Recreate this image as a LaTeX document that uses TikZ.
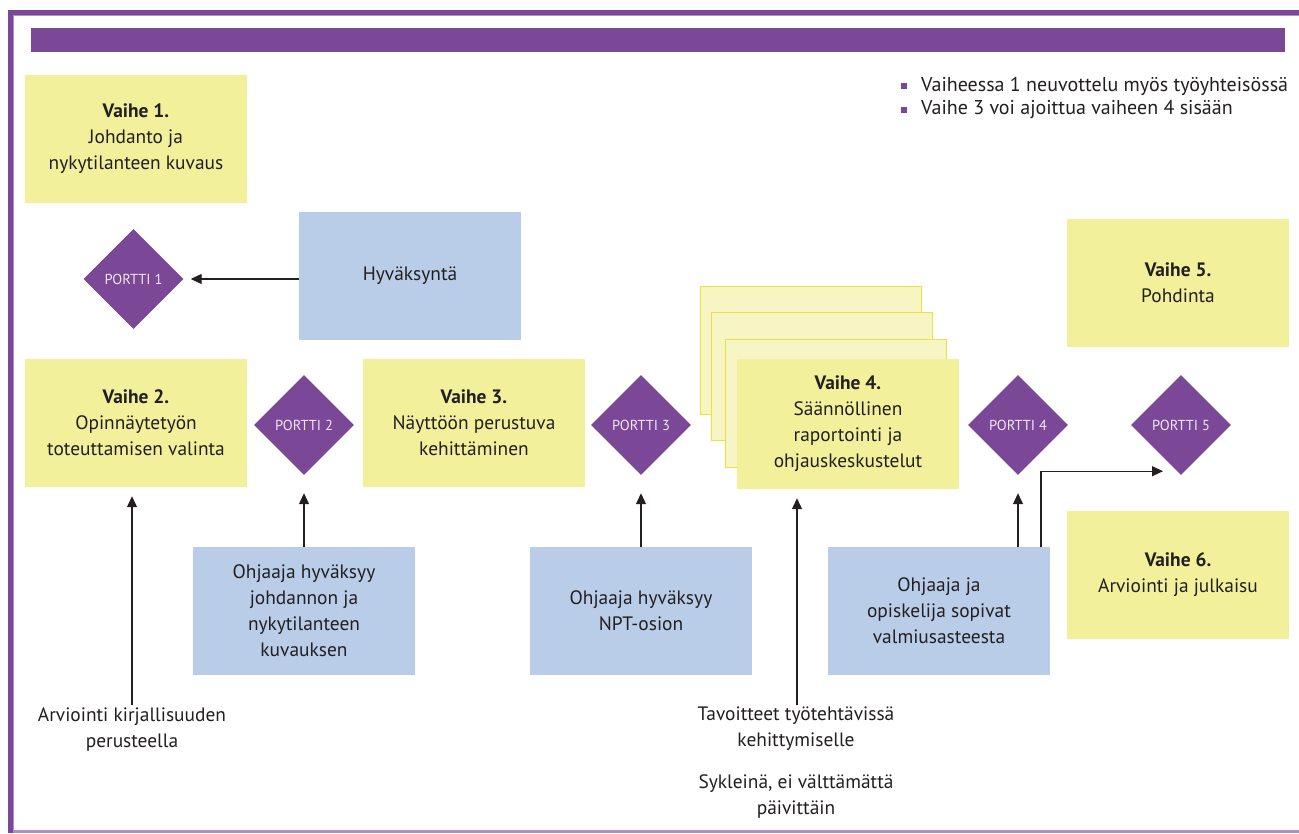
\documentclass[tikz,border=0pt]{standalone}
\usepackage{fontspec}
\setmainfont{PT Sans}
\usetikzlibrary{shapes.geometric,arrows.meta}
\definecolor{vpurple}{RGB}{123,71,151}
\definecolor{vlight}{RGB}{178,142,200}
\definecolor{vyellow}{RGB}{242,240,155}
\definecolor{vpale}{RGB}{247,245,196}
\definecolor{vedge}{RGB}{236,228,60}
\definecolor{vblue}{RGB}{185,205,232}
\definecolor{vtext}{RGB}{35,31,32}
\definecolor{vlav}{RGB}{240,230,245}
\begin{document}
\begin{tikzpicture}[x=1pt,y=-1pt,
  boxbase/.style={minimum width=222pt,minimum height=128pt,inner sep=0pt,align=center,text=vtext,font=\fontsize{19.4}{26}\selectfont},
  ybox/.style={boxbase,fill=vyellow},
  bbox/.style={boxbase,fill=vblue},
  pbox/.style={minimum width=221pt,minimum height=128pt,inner sep=0pt,fill=vpale,draw=vedge,line width=1pt},
  gate/.style={diamond,aspect=1,fill=vpurple,minimum size=100pt,inner sep=0pt,text=vlav,font=\fontsize{14.5}{16}\selectfont},
  arr/.style={-{Triangle[length=11pt,width=10pt]},line width=1.2pt,draw=vtext},
  note/.style={align=center,text=vtext,font=\fontsize{19.4}{26}\selectfont,inner sep=2pt},
  bul/.style={fill=vpurple,minimum size=6pt,inner sep=0pt},
  btext/.style={anchor=west,text=vtext,font=\fontsize{20}{24}\selectfont,inner sep=0pt}
]
\useasboundingbox (0,0) rectangle (1299,833);
\fill[white] (0,0) rectangle (1299,833);
% frame
\fill[vpurple] (8,10) rectangle (1299,15);
\fill[vpurple] (8,10) rectangle (13,833);
\fill[vlight] (13,15) rectangle (1299,16);
\fill[vlight] (13,15) rectangle (14,830);
\fill[vlight] (13,830) rectangle (1299,833);
% top bar
\fill[vpurple] (31,28) rectangle (1285,52);

% bullets
\node[bul] (q1) at (904,86) {};
\node[btext] (t1) at (921,86) {Vaiheessa 1 neuvottelu myös työyhteisössä};
\node[bul] (q2) at (904,110) {};
\node[btext] (t2) at (921,110) {Vaihe 3 voi ajoittua vaiheen 4 sisään};

% yellow phase boxes
\node[ybox] (v1) at (136,138.5) {\textbf{Vaihe 1.}\\Johdanto ja\\nykytilanteen kuvaus};
\node[ybox] (v2) at (136,423) {\textbf{Vaihe 2.}\\Opinnäytetyön\\toteuttamisen valinta};
\node[ybox] (v3) at (474,423) {\textbf{Vaihe 3.}\\Näyttöön perustuva\\kehittäminen};
\node[pbox] (sa) at (810.5,350.5) {};
\node[pbox] (sb) at (821.5,376.5) {};
\node[pbox] (sc) at (835.5,403) {};
\node[ybox,minimum height=130pt] (v4) at (848,424) {\textbf{Vaihe 4.}\\Säännöllinen\\raportointi ja\\ohjauskeskustelut};
\node[ybox] (v5) at (1178,283) {\textbf{Vaihe 5.}\\Pohdinta};
\node[ybox] (v6) at (1178,575) {\textbf{Vaihe 6.}\\Arviointi ja julkaisu};

% blue boxes
\node[bbox] (hyv) at (410,276) {Hyväksyntä};
\node[bbox] (b1) at (304,611) {Ohjaaja hyväksyy\\johdannon ja\\nykytilanteen\\kuvauksen};
\node[bbox] (b2) at (641,611) {Ohjaaja hyväksyy\\NPT-osion};
\node[bbox] (b3) at (939,611) {Ohjaaja ja\\opiskelija sopivat\\valmiusasteesta};

% gates
\node[gate] (p1) at (133.5,279) {PORTTI 1};
\node[gate] (p2) at (304,425) {PORTTI 2};
\node[gate] (p3) at (641,425) {PORTTI 3};
\node[gate] (p4) at (1018,425) {PORTTI 4};
\node[gate] (p5) at (1181,425) {PORTTI 5};

% bottom notes
\node[note,anchor=north] (arv) at (132,705) {Arviointi kirjallisuuden\\perusteella};
\node[note,anchor=north] (tav) at (796,705) {Tavoitteet työtehtävissä\\kehittymiselle\\[16pt]Sykleinä, ei välttämättä\\päivittäin};

% connectors
\draw[arr,shorten >=7pt] (hyv.west |- p1.east) -- (p1.east);
\draw[arr,shorten >=18pt] (b1.north) -- (p2.south);
\draw[arr,shorten >=18pt] (b2.north) -- (p3.south);
\draw[arr,shorten >=18pt] ([xshift=79pt]b3.north) -- (p4.south);
\draw[arr] ([xshift=102pt]b3.north) |- ([xshift=-18pt,yshift=4pt]p5.south);
\draw[arr,shorten >=9pt] (arv.north) -- (arv.north |- v2.south);
\draw[arr,shorten >=9pt] ([xshift=1pt]tav.north) -- ([xshift=1pt]tav.north |- v4.south);
\end{tikzpicture}
\end{document}
